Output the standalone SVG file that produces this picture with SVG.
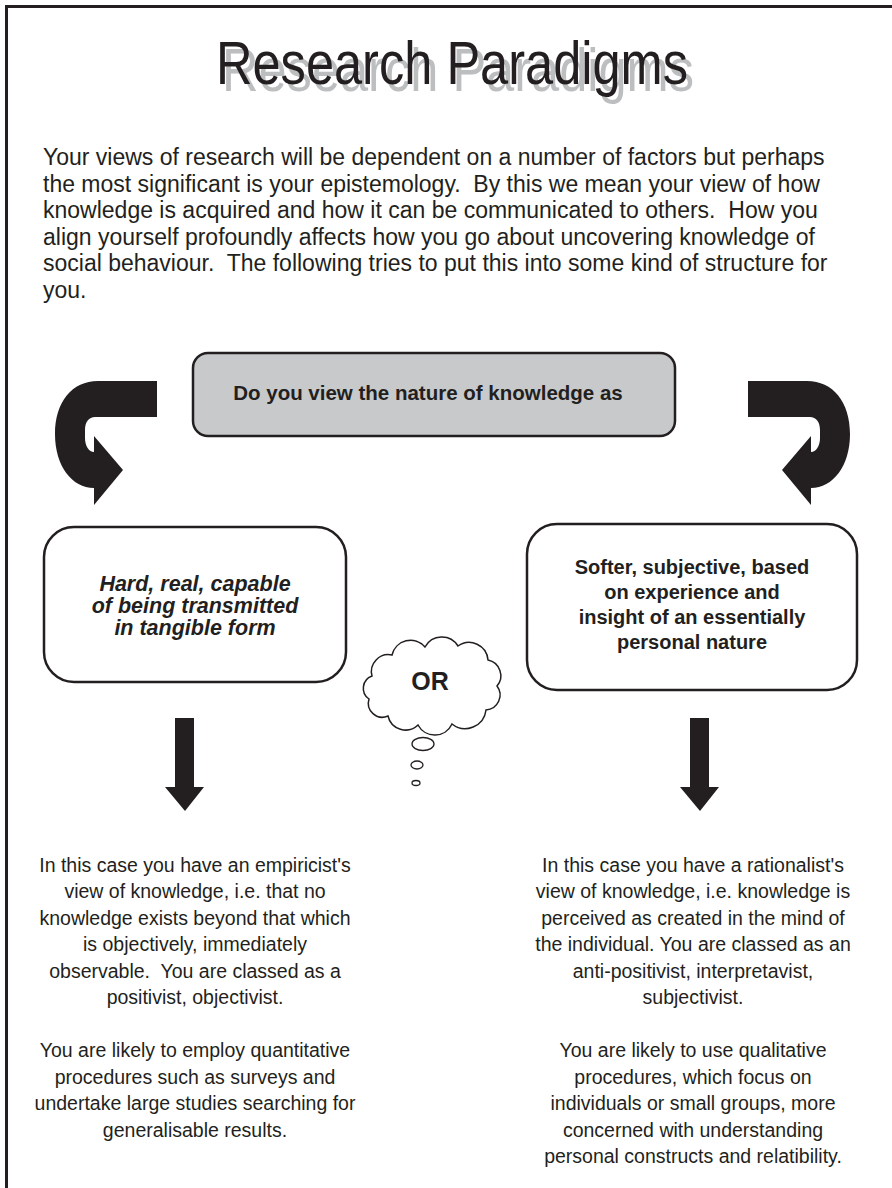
<svg xmlns="http://www.w3.org/2000/svg" width="892" height="1188" viewBox="0 0 892 1188">
<style>
text{font-family:"Liberation Sans",Arial,sans-serif;fill:#231f20;white-space:pre}
.para{font-size:23px}
.col{font-size:19.5px;text-anchor:middle}
.q{font-size:20px;font-weight:bold;text-anchor:middle}
.box{fill:#fff;stroke:#231f20;stroke-width:2.5}
.ink{fill:#231f20}
</style>
<rect x="6.5" y="6.5" width="900" height="1200" fill="none" stroke="#231f20" stroke-width="3"/>
<g id="title">
<text x="458" y="91" text-anchor="middle" font-size="62" textLength="472" lengthAdjust="spacingAndGlyphs" style="fill:#bcbec0">Research Paradigms</text>
<text x="452" y="84" text-anchor="middle" font-size="62" textLength="472" lengthAdjust="spacingAndGlyphs">Research Paradigms</text>
</g>
<g id="intro">
<text class="para" x="43" y="165">Your views of research will be dependent on a number of factors but perhaps</text>
<text class="para" x="43" y="191.5">the most significant is your epistemology.  By this we mean your view of how</text>
<text class="para" x="43" y="218">knowledge is acquired and how it can be communicated to others.  How you</text>
<text class="para" x="43" y="244.5">align yourself profoundly affects how you go about uncovering knowledge of</text>
<text class="para" x="43" y="271">social behaviour.  The following tries to put this into some kind of structure for</text>
<text class="para" x="43" y="297.5">you.</text>
</g>
<g id="question">
<rect x="193" y="353" width="482" height="83" rx="15" fill="#c8c9cb" stroke="#231f20" stroke-width="2.5"/>
<text class="q" x="428" y="400" style="font-size:20.5px">Do you view the nature of knowledge as</text>
</g>
<g id="hard">
<rect class="box" x="44" y="527" width="302" height="155" rx="30"/>
<text x="195" y="591" text-anchor="middle" font-size="21.5" font-weight="bold" font-style="italic">Hard, real, capable</text>
<text x="195" y="613" text-anchor="middle" font-size="21.5" font-weight="bold" font-style="italic">of being transmitted</text>
<text x="195" y="635" text-anchor="middle" font-size="21.5" font-weight="bold" font-style="italic">in tangible form</text>
</g>
<g id="soft">
<rect class="box" x="527" y="524" width="330" height="166" rx="30"/>
<text class="q" x="692" y="574">Softer, subjective, based</text>
<text class="q" x="692" y="599">on experience and</text>
<text class="q" x="692" y="624">insight of an essentially</text>
<text class="q" x="692" y="649">personal nature</text>
</g>
<g id="or">
<path d="M372,676 A17,17 0 0 1 392,655 A19,19 0 0 1 425,647 A19,19 0 0 1 458,646 A19,19 0 0 1 488,660 A16,16 0 0 1 497,686 A15,15 0 0 1 486,710 A21,21 0 0 1 452,724 A19,19 0 0 1 418,725 A18,18 0 0 1 388,716 A14,14 0 0 1 369,699 A13,13 0 0 1 372,676 Z" fill="#fff" stroke="#231f20" stroke-width="1.5"/>
<text x="430" y="690" text-anchor="middle" font-size="25" font-weight="bold">OR</text>
<ellipse cx="423" cy="744" rx="11" ry="6.5" fill="#fff" stroke="#231f20" stroke-width="1.3"/>
<ellipse cx="417" cy="765" rx="6" ry="4" fill="#fff" stroke="#231f20" stroke-width="1.3"/>
<ellipse cx="416" cy="783" rx="4" ry="2.5" fill="#fff" stroke="#231f20" stroke-width="1.3"/>
</g>
<g id="connectors" class="ink">
<path id="curveLeft" d="M157,381 L98,381 C72,381 55,402 55,434 C55,466 72,488 94,488 L94,505 L123,470 L94,436 L94,452 C89,452 85,446 85,438 L85,430 C85,422 89,417 95,417 L157,417 Z"/>
<path id="curveRight" transform="matrix(-1 0 0 1 905 0)" d="M157,381 L98,381 C72,381 55,402 55,434 C55,466 72,488 94,488 L94,505 L123,470 L94,436 L94,452 C89,452 85,446 85,438 L85,430 C85,422 89,417 95,417 L157,417 Z"/>
<path id="downLeft" d="M175,718 H194 V787 H204 L185,811 L165,787 H175 Z"/>
<path id="downRight" d="M690,718 H709 V787 H719 L700,811 L680,787 H690 Z"/>
</g>
<g id="empiricist">
<text class="col" x="195" y="871.5">In this case you have an empiricist's</text>
<text class="col" x="195" y="898">view of knowledge, i.e. that no</text>
<text class="col" x="195" y="924.5">knowledge exists beyond that which</text>
<text class="col" x="195" y="951">is objectively, immediately</text>
<text class="col" x="195" y="977.5">observable.  You are classed as a</text>
<text class="col" x="195" y="1004">positivist, objectivist.</text>
<text class="col" x="195" y="1057">You are likely to employ quantitative</text>
<text class="col" x="195" y="1083.5">procedures such as surveys and</text>
<text class="col" x="195" y="1110">undertake large studies searching for</text>
<text class="col" x="195" y="1136.5">generalisable results.</text>
</g>
<g id="rationalist">
<text class="col" x="693" y="871.5">In this case you have a rationalist's</text>
<text class="col" x="693" y="898">view of knowledge, i.e. knowledge is</text>
<text class="col" x="693" y="924.5">perceived as created in the mind of</text>
<text class="col" x="693" y="951">the individual. You are classed as an</text>
<text class="col" x="693" y="977.5">anti-positivist, interpretavist,</text>
<text class="col" x="693" y="1004">subjectivist.</text>
<text class="col" x="693" y="1057">You are likely to use qualitative</text>
<text class="col" x="693" y="1083.5">procedures, which focus on</text>
<text class="col" x="693" y="1110">individuals or small groups, more</text>
<text class="col" x="693" y="1136.5">concerned with understanding</text>
<text class="col" x="693" y="1163">personal constructs and relatibility.</text>
</g>
</svg>
